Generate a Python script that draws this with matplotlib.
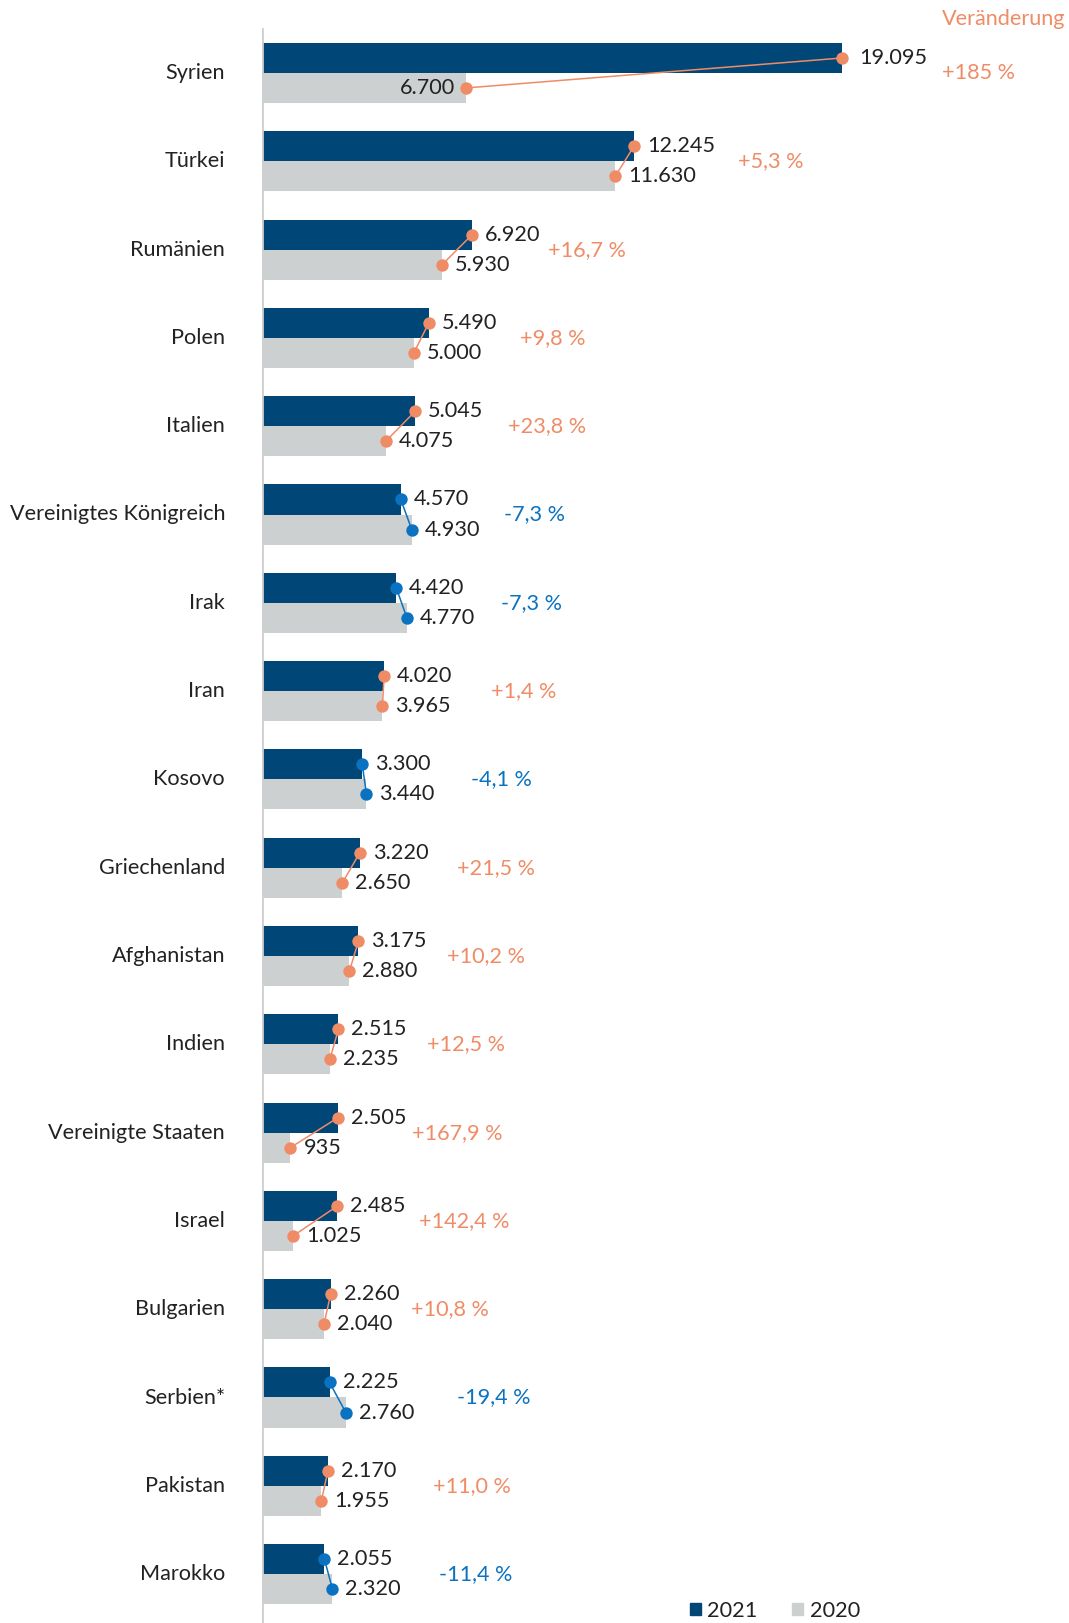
import matplotlib
matplotlib.use("Agg")
import matplotlib.pyplot as plt
from matplotlib.patches import Patch

plt.rcParams['font.family'] = ['Lato', 'DejaVu Sans']

countries = ["Syrien", "Türkei", "Rumänien", "Polen", "Italien", "Vereinigtes Königreich",
             "Irak", "Iran", "Kosovo", "Griechenland", "Afghanistan", "Indien",
             "Vereinigte Staaten", "Israel", "Bulgarien", "Serbien*", "Pakistan", "Marokko"]
values_2021 = [19095, 12245, 6920, 5490, 5045, 4570, 4420, 4020, 3300, 3220, 3175, 2515,
               2505, 2485, 2260, 2225, 2170, 2055]
values_2020 = [6700, 11630, 5930, 5000, 4075, 4930, 4770, 3965, 3440, 2650, 2880, 2235,
               935, 1025, 2040, 2760, 1955, 2320]
pct_change = [185, 5.3, 16.7, 9.8, 23.8, -7.3, -7.3, 1.4, -4.1, 21.5, 10.2, 12.5,
              167.9, 142.4, 10.8, -19.4, 11.0, -11.4]
pct_labels = ["+185 %", "+5,3 %", "+16,7 %", "+9,8 %", "+23,8 %", "-7,3 %", "-7,3 %",
              "+1,4 %", "-4,1 %", "+21,5 %", "+10,2 %", "+12,5 %", "+167,9 %", "+142,4 %",
              "+10,8 %", "-19,4 %", "+11,0 %", "-11,4 %"]
years = ["2021", "2020"]

# layout: x position (data units) of the change labels
pct_x = [22380, 15667, 9432, 8478, 8103, 7967, 7865, 7523, 6877, 6433, 6094, 5445,
         4935, 5172, 4902, 6433, 5616, 5821]

DARK = "#004677"
LIGHT = "#CDD0D1"
ORANGE = "#EF8C66"
BLUE = "#0A72C0"
TEXT = "#222222"

W, H = 1069, 1623
fig = plt.figure(figsize=(W / 100, H / 100), dpi=100)
x0 = 262
ppu = 580 / 19095.0
xmax = (W - x0) / ppu
ax = fig.add_axes([x0 / W, 0, 1 - x0 / W, 1])
spacing = 88.3
c0 = 73
ax.set_xlim(0, xmax)
ax.set_ylim((H - c0) / spacing, -c0 / spacing)
ax.axis("off")

n = len(countries)
bh = 0.34
ys = list(range(n))
ax.barh([y - bh / 2 for y in ys], values_2021, height=bh, color=DARK, zorder=2)
ax.barh([y + bh / 2 for y in ys], values_2020, height=bh, color=LIGHT, zorder=2)
ax.axvline(0, ymin=0, ymax=1 - 29 / H, color="#CFCFCF", lw=2, zorder=3)

fs = 15.6
off = 13 / ppu

def fmt(v):
    return f"{v:,}".replace(",", ".")

for i in range(n):
    col = ORANGE if pct_change[i] >= 0 else BLUE
    y1 = i - bh / 2
    y2 = i + bh / 2
    ax.plot([values_2021[i], values_2020[i]], [y1, y2], color=col, lw=1.1, zorder=4)
    ax.scatter([values_2021[i], values_2020[i]], [y1, y2], s=80, color=col, zorder=5,
               linewidths=0)
    ax.text(values_2021[i] + off * (1.3 if i == 0 else 1), y1, fmt(values_2021[i]),
            ha="left", va="center", fontsize=fs, color=TEXT, zorder=6)
    if values_2020[i] < values_2021[i] and i == 0:
        ax.text(values_2020[i] - off * 0.8, y2, fmt(values_2020[i]), ha="right",
                va="center", fontsize=fs, color=TEXT, zorder=6)
    else:
        ax.text(values_2020[i] + off, y2, fmt(values_2020[i]), ha="left",
                va="center", fontsize=fs, color=TEXT, zorder=6)
    ax.text(pct_x[i], i, pct_labels[i], ha="left", va="center", fontsize=fs, color=col)
    fig.text(225 / W, 1 - (c0 + spacing * i) / H, countries[i], ha="right", va="center",
             fontsize=fs, color=TEXT)

fig.text(942 / W, 1 - 19 / H, "Veränderung", ha="left", va="center", fontsize=fs,
         color=ORANGE)

handles = [Patch(color=DARK, label=years[0]), Patch(color=LIGHT, label=years[1])]
fig.legend(handles=handles, loc="center left", bbox_to_anchor=(690 / W, 1 - 1611 / H),
           ncol=2, frameon=False, fontsize=fs, handlelength=0.5, handleheight=0.5,
           handletextpad=0.3, columnspacing=1.6, borderaxespad=0, borderpad=0,
           labelcolor=TEXT)

fig.savefig("out.png", dpi=100, facecolor="white")
